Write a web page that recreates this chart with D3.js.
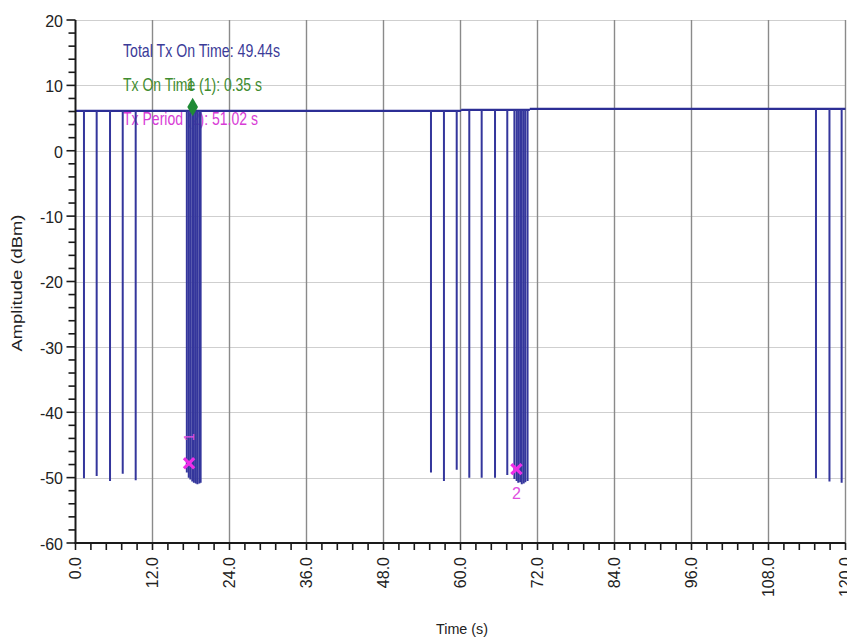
<!DOCTYPE html>
<html>
<head>
<meta charset="utf-8">
<script src="https://cdn.jsdelivr.net/npm/d3@7"></script>
<style>
  html, body { margin: 0; padding: 0; background: #fff; }
  svg { display: block; font-family: "Liberation Sans", Arial, sans-serif; }
</style>
</head>
<body>
<svg id="chart" width="847" height="640"></svg>
<script>
// Time axis (s)
const timeTicks = [0, 12, 24, 36, 48, 60, 72, 84, 96, 108, 120];
const timeTickLabels = ["0.0", "12.0", "24.0", "36.0", "48.0", "60.0", "72.0", "84.0", "96.0", "108.0", "120.0"];
// Amplitude axis (dBm)
const ampTicks = [20, 10, 0, -10, -20, -30, -40, -50, -60];
const ampTickLabels = ["20", "10", "0", "-10", "-20", "-30", "-40", "-50", "-60"];

// Carrier level while transmitting: segment start/end times and levels (dBm)
const levelStarts = [0, 60.1, 70.8];
const levelEnds = [60.1, 70.8, 120];
const levelValues = [6.1, 6.25, 6.4];

// Carrier drop-outs: time (s) and floor reached (dBm)
const dropTimes = [
  1.32, 3.30, 5.38, 7.36, 9.38,
  17.35, 17.65, 17.9, 18.2, 18.45, 18.75, 19.0, 19.3, 19.5,
  55.40, 57.42, 59.41, 61.37, 63.30, 65.38, 67.29,
  68.4, 68.75, 69.0, 69.3, 69.55, 69.85, 70.1, 70.45,
  115.4, 117.5, 119.4
];
const dropDepths = [
  -50.1, -49.75, -50.5, -49.4, -50.4,
  -49.2, -50.0, -50.3, -50.6, -50.8, -50.9, -51.0, -50.9, -50.8,
  -49.2, -50.5, -48.8, -50.0, -50.0, -50.0, -49.6,
  -50.2, -50.5, -50.8, -50.7, -51.0, -50.9, -50.7, -50.5,
  -50.1, -50.6, -50.8
];

// Markers
const onMarker = { t: 18.26, v: 6.7, label: "1" };
const periodMarkers = [
  { t: 17.7, v: -47.8, label: "1" },
  { t: 68.72, v: -48.7, label: "2" }
];

// Readout texts
const readouts = [
  { text: "Total Tx On Time: 49.44s", color: "#3b3b98", len: 157 },
  { text: "Tx On Time (1): 0.35 s", color: "#3f8c2f", len: 139 },
  { text: "Tx Period (2): 51.02 s", color: "#d83cd6", len: 135 }
];

const svg = d3.select("#chart");
const x = d3.scaleLinear().domain([0, 120]).range([75.5, 845.5]);
const y = d3.scaleLinear().domain([-60, 20]).range([543, 20]);

// Grid
const grid = svg.append("g");
grid.selectAll("line.hg")
  .data(ampTicks.filter(d => d > -60))
  .join("line")
  .attr("x1", x(0)).attr("x2", x(120))
  .attr("y1", d => Math.round(y(d)) + 0.5).attr("y2", d => Math.round(y(d)) + 0.5)
  .attr("stroke", "#cfcfcf").attr("stroke-width", 1);
grid.selectAll("line.vg")
  .data(timeTicks.filter(d => d > 0))
  .join("line")
  .attr("x1", d => x(d)).attr("x2", d => x(d))
  .attr("y1", y(20)).attr("y2", y(-60))
  .attr("stroke", "#8a8a8a").attr("stroke-width", 1.4);

// Readouts
svg.append("g").selectAll("text")
  .data(readouts)
  .join("text")
  .attr("x", 123)
  .attr("y", (d, i) => 57 + i * 34)
  .attr("font-size", 19)
  .attr("textLength", d => d.len)
  .attr("lengthAdjust", "spacingAndGlyphs")
  .attr("fill", d => d.color)
  .text(d => d.text);

// Carrier level
const sig = svg.append("g");
sig.selectAll("line.lvl")
  .data(levelValues)
  .join("line")
  .attr("x1", (d, i) => x(levelStarts[i])).attr("x2", (d, i) => x(levelEnds[i]))
  .attr("y1", d => y(d)).attr("y2", d => y(d))
  .attr("stroke", "#2c2e95").attr("stroke-width", 2.4);
sig.selectAll("line.lvlstep")
  .data(levelValues.slice(1))
  .join("line")
  .attr("x1", (d, i) => x(levelStarts[i + 1])).attr("x2", (d, i) => x(levelStarts[i + 1]))
  .attr("y1", (d, i) => y(levelValues[i])).attr("y2", d => y(d))
  .attr("stroke", "#2c2e95").attr("stroke-width", 2);

// Drop-outs
const levelAt = t => {
  let v = levelValues[0];
  levelStarts.forEach((s, i) => { if (t >= s) v = levelValues[i]; });
  return v;
};
sig.selectAll("line.drop")
  .data(dropTimes)
  .join("line")
  .attr("x1", d => x(d)).attr("x2", d => x(d))
  .attr("y1", d => y(levelAt(d))).attr("y2", (d, i) => y(dropDepths[i]))
  .attr("stroke", "#34369c").attr("stroke-width", 2);

// Axes
const axes = svg.append("g").attr("stroke", "#1a1a1a");
axes.append("line")
  .attr("x1", x(0)).attr("x2", x(0)).attr("y1", y(20)).attr("y2", y(-60) + 1)
  .attr("stroke-width", 2);
axes.append("line")
  .attr("x1", x(0) - 1).attr("x2", x(120)).attr("y1", y(-60)).attr("y2", y(-60))
  .attr("stroke-width", 2);

const ampMinor = d3.range(-60, 20.1, 2);
axes.selectAll("line.yt")
  .data(ampMinor)
  .join("line")
  .attr("x1", d => x(0) - (d % 10 === 0 ? 9 : 7)).attr("x2", x(0))
  .attr("y1", d => y(d)).attr("y2", d => y(d))
  .attr("stroke-width", 1.6);

const timeMinor = d3.range(0, 120.01, 2.4);
axes.selectAll("line.xt")
  .data(timeMinor)
  .join("line")
  .attr("x1", d => x(d)).attr("x2", d => x(d))
  .attr("y1", y(-60)).attr("y2", y(-60) + 7)
  .attr("stroke-width", 1.6);

svg.append("g").selectAll("text")
  .data(ampTicks)
  .join("text")
  .attr("x", 63)
  .attr("y", d => y(d) + 1)
  .attr("dy", "0.36em")
  .attr("text-anchor", "end")
  .attr("font-size", 16)
  .attr("fill", "#222")
  .text((d, i) => ampTickLabels[i]);

svg.append("g").selectAll("text")
  .data(timeTicks)
  .join("text")
  .attr("transform", d => `translate(${x(d)},557) rotate(-90)`)
  .attr("dy", "0.36em")
  .attr("text-anchor", "end")
  .attr("font-size", 16)
  .attr("fill", "#222")
  .text((d, i) => timeTickLabels[i]);

// Axis titles
svg.append("text")
  .attr("transform", "translate(22,283) rotate(-90)")
  .attr("text-anchor", "middle")
  .attr("font-size", 14)
  .attr("textLength", 137)
  .attr("lengthAdjust", "spacingAndGlyphs")
  .attr("fill", "#222")
  .text("Amplitude (dBm)");
svg.append("text")
  .attr("x", 462).attr("y", 634)
  .attr("text-anchor", "middle")
  .attr("font-size", 14)
  .attr("textLength", 52)
  .attr("lengthAdjust", "spacingAndGlyphs")
  .attr("fill", "#222")
  .text("Time (s)");

// Tx-on marker
svg.append("path")
  .attr("d", d3.symbol(d3.symbolDiamond, 100)())
  .attr("transform", `translate(${x(onMarker.t)},${y(onMarker.v)})`)
  .attr("fill", "#1f8a35");
svg.append("text")
  .attr("x", x(onMarker.t) - 2).attr("y", 90)
  .attr("text-anchor", "middle")
  .attr("font-size", 17)
  .attr("fill", "#3f8c2f")
  .text(onMarker.label);

// Period markers
svg.append("g").selectAll("path")
  .data(periodMarkers)
  .join("path")
  .attr("d", d3.symbol(d3.symbolX, 70)())
  .attr("transform", d => `translate(${x(d.t)},${y(d.v)})`)
  .attr("fill", "none")
  .attr("stroke", "#ee2ee8")
  .attr("stroke-width", 3.2);
svg.append("text")
  .attr("transform", `translate(${x(periodMarkers[0].t)},437) rotate(-90)`)
  .attr("text-anchor", "middle")
  .attr("dy", "0.35em")
  .attr("font-size", 14)
  .attr("fill", "#e04ee0")
  .text(periodMarkers[0].label);
svg.append("text")
  .attr("x", x(periodMarkers[1].t)).attr("y", 499)
  .attr("text-anchor", "middle")
  .attr("font-size", 16)
  .attr("fill", "#e04ee0")
  .text(periodMarkers[1].label);
</script>
</body>
</html>
